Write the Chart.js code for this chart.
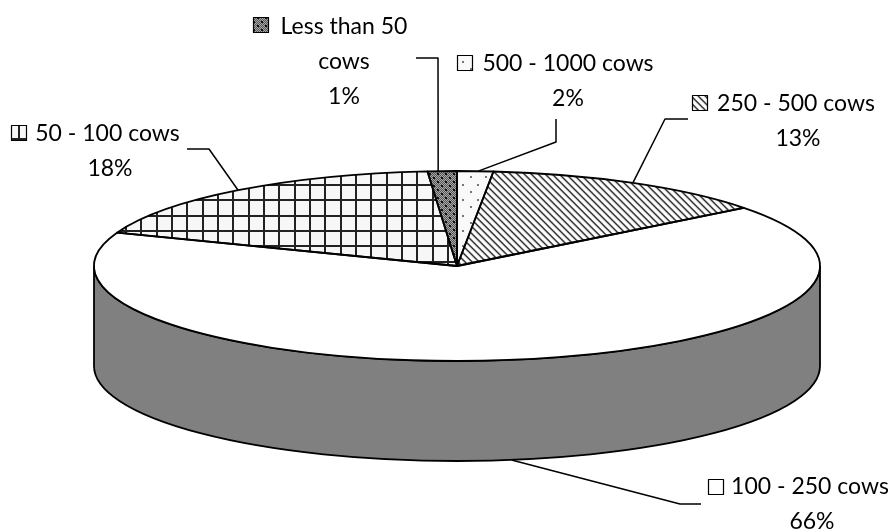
<!DOCTYPE html>
<html>
<head>
<meta charset="utf-8">
<style>
  html, body { margin: 0; padding: 0; background: #fff; }
  canvas { display: block; }
</style>
<script src="https://cdn.jsdelivr.net/npm/chart.js@4"></script>
</head>
<body>
<canvas id="chart" width="893" height="530"></canvas>
<script>
// slices clockwise from 12 o'clock
const categories = ['500 - 1000 cows', '250 - 500 cows', '100 - 250 cows', '50 - 100 cows', 'Less than 50 cows']
const shares = [1.6, 12.9, 66.2, 18.0, 1.3]

// label placement: wrapped text, key box, leader line
const labelLines = [['500 - 1000 cows'], ['250 - 500 cows'], ['100 - 250 cows'], ['50 - 100 cows'], ['Less than 50', 'cows']]
const labelCenters = [568, 796, 810, 107.5, 344]
const percentCenters = [568, 798, 812, 110, 344]
const labelBaselines = [71, 111, 494, 141, 34]
const keyBoxes = [[457, 55], [692, 95], [708, 479], [11, 125], [253, 17]]
const leaderPoints = [
  [[556, 119], [556, 142]],
  [[688, 119], [665, 119]],
  [[701, 504], [680, 504]],
  [[187, 149], [209, 149]],
  [[416, 58], [438, 58]]
]
const leaderNudge = [3, 0, 0, 0, -4]

const RX = 363      // half width of the top face
const DEPTH = 100   // height of the side wall
const LINE = 1.8
const FONT = '23px Lato, "Open Sans", sans-serif'

function makeTile(w, h, paint) {
  const c = document.createElement('canvas')
  c.width = w
  c.height = h
  paint(c.getContext('2d'))
  return c.getContext('2d').createPattern(c, 'repeat')
}

const ctxMain = document.getElementById('chart').getContext('2d')

const dotsPattern = makeTile(46, 46, g => {
  g.fillStyle = '#f9f9f9'
  g.fillRect(0, 0, 46, 46)
  g.fillStyle = '#777'
  for (let i = 0; i < 3; i++) {
    for (let j = 0; j < 3; j++) {
      g.fillRect(Math.round(3 + i * 46 / 3) - 1, Math.round(j * 46 / 3), 2, 2)
      g.fillRect(Math.round(10.67 + i * 46 / 3) - 1, Math.round(8 + j * 46 / 3) - 1, 2, 2)
    }
  }
})

const stripesPattern = makeTile(7, 7, g => {
  const shades = ['#333', '#777', '#eee', '#fff', '#fff', '#eee', '#aaa']
  for (let x = 0; x < 7; x++) {
    for (let y = 0; y < 7; y++) {
      g.fillStyle = shades[(x - y + 7) % 7]
      g.fillRect(x, y, 1, 1)
    }
  }
})

const gridPattern = makeTile(46, 46, g => {
  g.fillStyle = '#f7f7f7'
  g.fillRect(0, 0, 46, 46)
  g.fillStyle = '#222'
  for (let i = 0; i < 3; i++) {
    g.fillRect(Math.round(3.45 + i * 46 / 3) - 1, 0, 2, 46)
    g.fillRect(0, Math.round(1 + i * 46 / 3) - 1, 46, 2)
  }
})

const checkPattern = makeTile(8, 8, g => {
  for (let x = 0; x < 8; x++) {
    for (let y = 0; y < 8; y++) {
      g.fillStyle = (x + y) % 2 ? '#555' : '#a8a8a8'
      g.fillRect(x, y, 1, 1)
    }
  }
  g.fillStyle = '#111'
  g.fillRect(1, 1, 2, 2)
  g.fillRect(5, 5, 2, 2)
})

const fills = [dotsPattern, stripesPattern, '#ffffff', gridPattern, checkPattern]
const patterns = [dotsPattern, stripesPattern, gridPattern, checkPattern]

const pie3d = {
  id: 'pie3d',
  beforeDatasetsDraw(chart) {
    const arc = chart.getDatasetMeta(0).data[0]
    const cx = arc.x, cy = arc.y, ry = arc.outerRadius
    const ctx = chart.ctx
    const sx = RX / ry

    // side wall under the front half
    ctx.save()
    ctx.beginPath()
    ctx.moveTo(cx - RX, cy)
    ctx.lineTo(cx - RX, cy + DEPTH)
    ctx.ellipse(cx, cy + DEPTH, RX, ry, 0, Math.PI, 0, true)
    ctx.lineTo(cx + RX, cy)
    ctx.ellipse(cx, cy, RX, ry, 0, 0, Math.PI, false)
    ctx.closePath()
    ctx.fillStyle = '#808080'
    ctx.fill()
    ctx.lineWidth = LINE
    ctx.strokeStyle = '#000'
    ctx.stroke()
    ctx.restore()

    // squash the round pie into the tilted face, patterns stay at pixel size
    const m = new DOMMatrix([1 / sx, 0, 0, 1, cx - cx / sx, 0])
    patterns.forEach(p => p.setTransform(m))
    ctx.save()
    ctx.translate(cx, 0)
    ctx.scale(sx, 1)
    ctx.translate(-cx, 0)
  },
  afterDatasetsDraw(chart) {
    const ctx = chart.ctx
    ctx.restore()
    patterns.forEach(p => p.setTransform(new DOMMatrix()))

    const arcs = chart.getDatasetMeta(0).data
    const cx = arcs[0].x, cy = arcs[0].y, ry = arcs[0].outerRadius

    ctx.save()
    ctx.lineWidth = LINE
    ctx.strokeStyle = '#000'
    ctx.lineJoin = 'round'
    arcs.forEach(a => {
      ctx.beginPath()
      ctx.moveTo(cx, cy)
      ctx.ellipse(cx, cy, RX, ry, 0, a.startAngle, a.endAngle)
      ctx.closePath()
      ctx.stroke()
    })

    // leader lines end on the middle of their slice
    ctx.lineWidth = 1.5
    arcs.forEach((a, i) => {
      const mid = (a.startAngle + a.endAngle) / 2
      const ax = cx + RX * Math.cos(mid) + leaderNudge[i]
      let ay = cy + ry * Math.sin(mid)
      if (Math.sin(mid) > 0) ay += DEPTH
      const pts = leaderPoints[i]
      ctx.beginPath()
      ctx.moveTo(pts[0][0], pts[0][1])
      ctx.lineTo(pts[1][0], pts[1][1])
      ctx.lineTo(ax, ay)
      ctx.stroke()
    })

    // labels with their small keys
    ctx.fillStyle = '#000'
    ctx.font = FONT
    ctx.textAlign = 'center'
    ctx.textBaseline = 'alphabetic'
    categories.forEach((name, i) => {
      let y = labelBaselines[i]
      labelLines[i].forEach(line => {
        ctx.fillText(line, labelCenters[i], y)
        y += 35
      })
      ctx.fillText(Math.round(shares[i]) + '%', percentCenters[i], y)

      const [kx, ky] = keyBoxes[i]
      ctx.fillStyle = fills[i]
      ctx.fillRect(kx, ky, 16, 16)
      ctx.strokeStyle = '#000'
      ctx.lineWidth = 1.2
      ctx.strokeRect(kx + 0.5, ky + 0.5, 15, 15)
      ctx.fillStyle = '#000'
    })
    ctx.restore()
  }
}

new Chart(ctxMain, {
  type: 'pie',
  data: {
    labels: categories,
    datasets: [{
      data: shares,
      backgroundColor: fills,
      borderWidth: 0
    }]
  },
  options: {
    responsive: false,
    animation: false,
    layout: { padding: { top: 171, bottom: 169, left: 94, right: 73 } },
    plugins: {
      legend: { display: false },
      tooltip: { enabled: false }
    }
  },
  plugins: [pie3d]
})
</script>
</body>
</html>
